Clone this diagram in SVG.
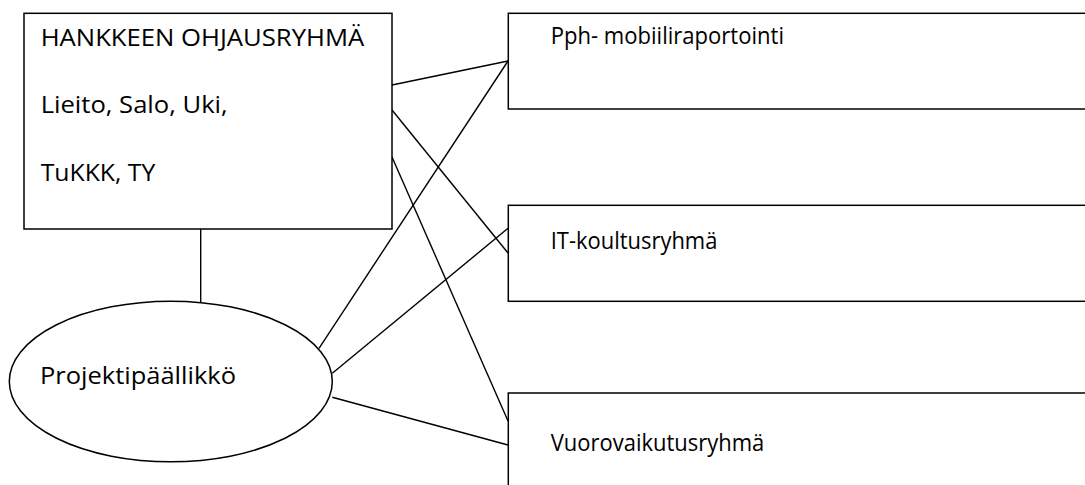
<svg xmlns="http://www.w3.org/2000/svg" width="1085" height="485" viewBox="0 0 1085 485">
<style>
.box{fill:#fff;stroke:#000;stroke-width:1.5}
.conn line{stroke:#000;stroke-width:1.4}
text{font-family:"Open Sans","Noto Sans","Liberation Sans",sans-serif;font-size:24px;fill:#000}
</style>
<rect width="1085" height="485" fill="#fff"/>
<g class="conn" id="connectors">
<line x1="200.7" y1="229" x2="200.7" y2="302.6"/>
<line x1="392" y1="85" x2="508" y2="61"/>
<line x1="392" y1="110" x2="508" y2="253"/>
<line x1="392" y1="157" x2="508" y2="421"/>
<line x1="319" y1="348.3" x2="508" y2="61"/>
<line x1="332.3" y1="373.3" x2="508" y2="228.3"/>
<line x1="332.3" y1="397.3" x2="508" y2="445"/>
</g>
<g id="ohjausryhma">
<rect class="box" x="24" y="13.3" width="368" height="215.7"/>
<text x="40.7" y="45.7" textLength="323.6" lengthAdjust="spacingAndGlyphs">HANKKEEN OHJAUSRYHMÄ</text>
<text x="40.7" y="113.3" textLength="187" lengthAdjust="spacingAndGlyphs">Lieito, Salo, Uki,</text>
<text x="40.7" y="181" textLength="114.6" lengthAdjust="spacingAndGlyphs">TuKKK, TY</text>
</g>
<g id="projektipaallikko">
<ellipse class="box" cx="170.8" cy="381.5" rx="161.5" ry="80.3"/>
<text x="40" y="384" textLength="196" lengthAdjust="spacingAndGlyphs">Projektipäällikkö</text>
</g>
<g id="mobiiliraportointi">
<rect class="box" x="508.3" y="13.3" width="600" height="95.7"/>
<text x="550.7" y="44.3" textLength="233.3" lengthAdjust="spacingAndGlyphs">Pph- mobiiliraportointi</text>
</g>
<g id="it-koulutusryhma">
<rect class="box" x="508.3" y="205.3" width="600" height="96"/>
<text x="550.7" y="249.3" textLength="166.7" lengthAdjust="spacingAndGlyphs">IT-koultusryhmä</text>
</g>
<g id="vuorovaikutusryhma">
<rect class="box" x="508.3" y="393" width="600" height="120"/>
<text x="550.7" y="451" textLength="213.6" lengthAdjust="spacingAndGlyphs">Vuorovaikutusryhmä</text>
</g>
</svg>
